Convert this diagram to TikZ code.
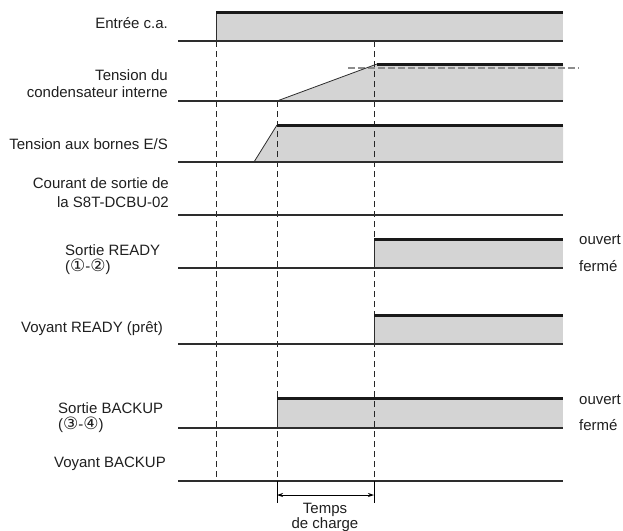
\documentclass[tikz,border=0pt]{standalone}
\usepackage{fontspec}
\setmainfont{Liberation Sans}
\newfontfamily\symfont{DejaVu Sans}
\usetikzlibrary{arrows.meta}
\definecolor{fillg}{RGB}{212,212,212}
\definecolor{lineg}{RGB}{45,45,45}
\definecolor{dashg}{RGB}{140,140,140}
\newcommand{\circd}[1]{{\symfont\fontsize{17}{17}\selectfont #1}}
\begin{document}
\begin{tikzpicture}[x=1pt,y=-1pt,
  txt/.style={font=\fontsize{15}{17}\selectfont, inner sep=0pt, text=black!88},
  lbl/.style={txt, anchor=base east},
  lbll/.style={txt, anchor=base west},
  lblc/.style={txt, anchor=base},
  baseln/.style={line width=1.3pt, draw=lineg},
  topln/.style={line width=3pt, draw=black!90},
  sigfill/.style={fill=fillg, draw=none},
  edgeln/.style={line width=0.8pt, draw=lineg},
  vdash/.style={line width=0.8pt, draw=black!85, dash pattern=on 6pt off 4pt},
  gdash/.style={line width=1.6pt, draw=dashg, dash pattern=on 7pt off 3pt},
  tickln/.style={line width=0.8pt, draw=black},
  dimarrow/.style={line width=0.8pt, draw=black, {Stealth[length=6pt,width=4pt]}-{Stealth[length=6pt,width=4pt]}}
]
\useasboundingbox (0,0) rectangle (623,530);

% ---------- labels ----------
\node[lbl] (e1) at (168,28) {Entrée c.a.};
\node[lbl] (t1) at (168,80) {Tension du};
\node[lbl] (t2) at (168,97) {condensateur interne};
\node[lbl] (b1) at (168,149) {Tension aux bornes E/S};
\node[lbl] (c1) at (169,188) {Courant de sortie de};
\node[lbl] (c2) at (169,207) {la S8T-DCBU-02};
\node[lbll] (r1) at (65,255) {Sortie READY};
\node[lbll] (r2) at (65,271) {(\circd{①}-\circd{②})};
\node[lbl] (v1) at (163,332) {Voyant READY (prêt)};
\node[lbll] (s1) at (58,413) {Sortie BACKUP};
\node[lbll] (s2) at (58,429) {(\circd{③}-\circd{④})};
\node[lbl] (v2) at (166,467) {Voyant BACKUP};
\node[lbll] (o1) at (579,244) {ouvert};
\node[lbll] (f1) at (579,271) {fermé};
\node[lbll] (o2) at (579,404) {ouvert};
\node[lbll] (f2) at (579,430) {fermé};
\node[lblc] (tc1) at (325,513) {Temps};
\node[lblc] (tc2) at (325,528) {de charge};

% ---------- fills ----------
\fill[sigfill] (216,12) rectangle (563,41);
\fill[sigfill] (277,101) -- (377,64) -- (563,64) -- (563,101) -- cycle;
\fill[sigfill] (254,162) -- (277,125) -- (563,125) -- (563,162) -- cycle;
\fill[sigfill] (374,239) rectangle (563,268);
\fill[sigfill] (374,315) rectangle (563,344);
\fill[sigfill] (277,398) rectangle (563,428);

% ---------- dashed time markers ----------
\draw[vdash] (216,41) -- (216,481);
\draw[vdash] (277,101) -- (277,481);
\draw[vdash] (374,41) -- (374,481);
\draw[gdash] (348,68) -- (579,68);

% ---------- edges ----------
\draw[edgeln] (216,41) -- (216,12);
\draw[edgeln] (277,101) -- (377,64);
\draw[edgeln] (254,162) -- (277,125);
\draw[edgeln] (374,268) -- (374,239);
\draw[edgeln] (374,344) -- (374,315);
\draw[edgeln] (277,428) -- (277,398);

% ---------- high levels ----------
\draw[topln] (216,12) -- (563,12);
\draw[topln] (377,64) -- (563,64);
\draw[topln] (277,125) -- (563,125);
\draw[topln] (374,239) -- (563,239);
\draw[topln] (374,315) -- (563,315);
\draw[topln] (277,398) -- (563,398);

% ---------- baselines ----------
\draw[baseln] (178,41) -- (563,41);
\draw[baseln] (178,101) -- (563,101);
\draw[baseln] (178,162) -- (563,162);
\draw[baseln] (178,215) -- (563,215);
\draw[baseln] (178,268) -- (563,268);
\draw[baseln] (178,344) -- (563,344);
\draw[baseln] (178,428) -- (563,428);
\draw[baseln] (178,481) -- (563,481);

% ---------- charge time dimension ----------
\coordinate (ka) at (277,481);
\coordinate (kb) at (277,503);
\coordinate (kc) at (374,481);
\coordinate (kd) at (374,503);
\coordinate (aa) at (277,495);
\coordinate (ab) at (374,495);
\draw[tickln] (ka) -- (kb);
\draw[tickln] (kc) -- (kd);
\draw[dimarrow] (aa) -- (ab);
\end{tikzpicture}
\end{document}
